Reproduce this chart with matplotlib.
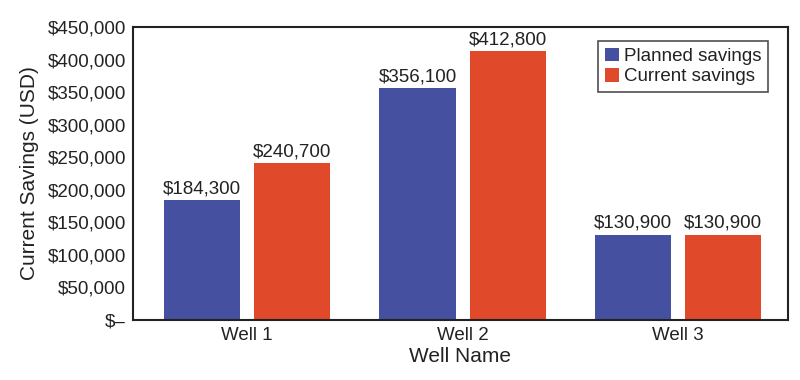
import numpy as np
import matplotlib
matplotlib.use('Agg')
import matplotlib.pyplot as plt

wells = ['Well 1', 'Well 2', 'Well 3']
planned = [184300, 356100, 130900]
current = [240700, 412800, 130900]
ytick_vals = [0, 50000, 100000, 150000, 200000, 250000, 300000, 350000, 400000, 450000]
ytick_labels = ['$\u2013'] + ['${:,}'.format(v) for v in ytick_vals[1:]]

plt.rcParams['font.family'] = ['Liberation Sans', 'DejaVu Sans']
txt = '#222222'

fig = plt.figure(figsize=(8, 3.8), dpi=100)
ax = fig.add_axes([0.166, 0.158, 0.819, 0.771])

x = np.arange(len(wells))
w = 0.353
off = 0.209
b1 = ax.bar(x - off, planned, w, color='#4650A0', label='Planned savings')
b2 = ax.bar(x + off, current, w, color='#E04A2B', label='Current savings')

for bars, vals in [(b1, planned), (b2, current)]:
    for b, v in zip(bars, vals):
        ax.annotate('${:,}'.format(v), (b.get_x() + b.get_width() / 2, v),
                    xytext=(0, 2), textcoords='offset points',
                    ha='center', va='bottom', fontsize=13.5, color=txt)

ax.set_xlim(-0.53, 2.51)
ax.set_ylim(0, 450000)
ax.set_xticks(x)
ax.set_xticklabels(wells, fontsize=13.5, color=txt)
ax.set_yticks(ytick_vals)
ax.set_yticklabels(ytick_labels, fontsize=13.5, color=txt)
ax.tick_params(length=0, pad=5)
ax.tick_params(axis='x', pad=5)
for s in ax.spines.values():
    s.set_linewidth(1.5)
    s.set_color('#222222')

ax.set_xlabel('Well Name', fontsize=15, color=txt, labelpad=2)
ax.set_ylabel('Current Savings (USD)', fontsize=15, color=txt, labelpad=6)

leg = ax.legend(loc='upper right', bbox_to_anchor=(0.97, 0.952), fontsize=13.5,
                frameon=True, fancybox=False, edgecolor='#222222',
                handlelength=0.75, handleheight=0.75, handletextpad=0.3,
                borderpad=0.35, labelspacing=0.15, borderaxespad=0)
leg.get_frame().set_linewidth(1.2)
for t in leg.get_texts():
    t.set_color(txt)

fig.savefig('out.png', dpi=100)
